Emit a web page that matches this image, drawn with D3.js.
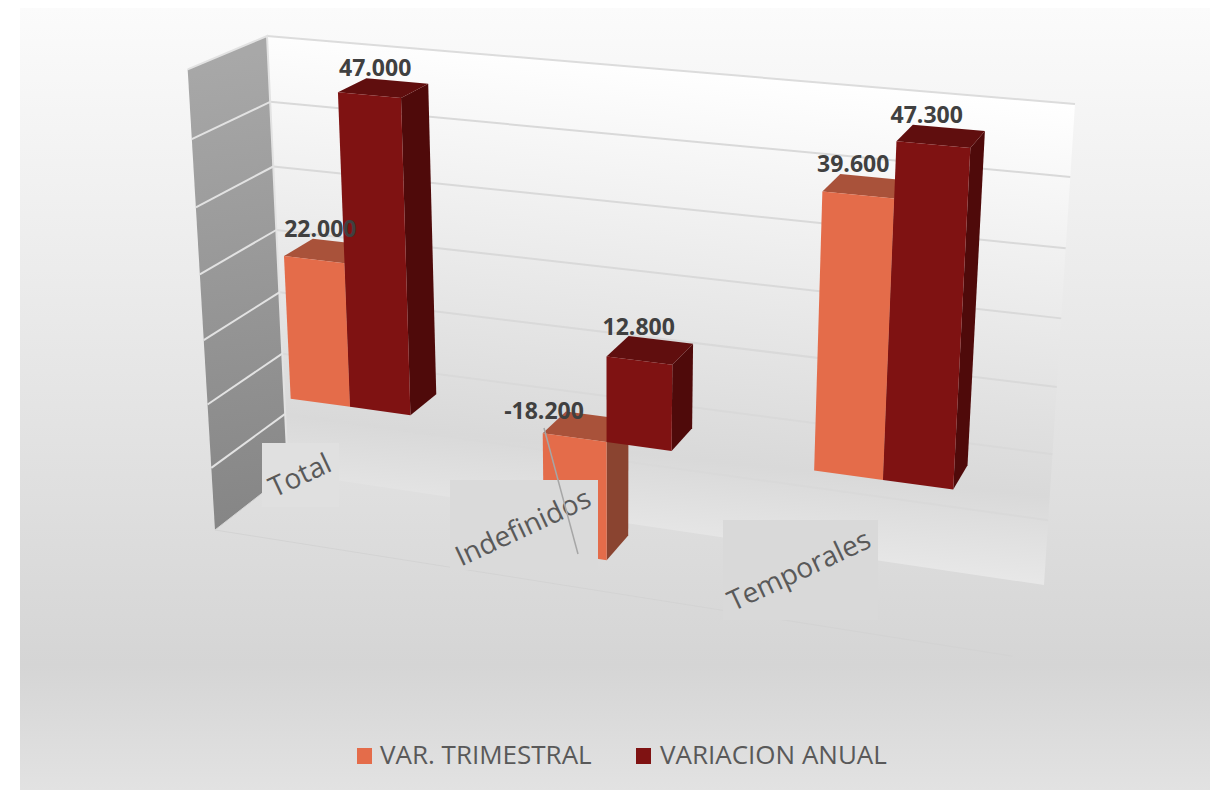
<!DOCTYPE html>
<html lang="en">
<head>
<meta charset="utf-8">
<title>Variacion trimestral y anual</title>
<script src="https://cdn.jsdelivr.net/npm/d3@7"></script>
<style>
body { margin: 0; background: #fff; }
svg { display: block; font-family: "Open Sans", sans-serif; }
.value-label { font-size: 23px; font-weight: 700; fill: #404040; text-anchor: middle; }
.cat-label { font-size: 28px; fill: #595959; text-anchor: middle; }
.legend-label { font-size: 26px; fill: #595959; }
</style>
</head>
<body>
<script>
// data
var categories = ["Total", "Indefinidos", "Temporales"];
var seriesNames = ["VAR. TRIMESTRAL", "VARIACION ANUAL"];
var varTrimestral = [22000, -18200, 39600];
var variacionAnual = [47000, 12800, 47300];
var axisTicks = [-20000, -10000, 0, 10000, 20000, 30000, 40000, 50000];

var w = 1223, h = 790;
var svg = d3.select("body").append("svg").attr("width", w).attr("height", h);
var defs = svg.append("defs");

function gradient(id, x1, y1, x2, y2, stops) {
    var g = defs.append("linearGradient").attr("id", id)
        .attr("gradientUnits", "userSpaceOnUse")
        .attr("x1", x1).attr("y1", y1).attr("x2", x2).attr("y2", y2);
    stops.forEach(function(s) {
        g.append("stop").attr("offset", s[0]).attr("stop-color", s[1]);
    });
}
gradient("bg", 0, 8, 0, 790, [[0, "#fbfbfb"], [0.84, "#d5d5d5"], [1, "#e2e2e2"]]);
gradient("wall", 690, 65, 640, 540, [[0, "#ffffff"], [0.82, "#d9d9d9"], [1, "#e7e7e7"]]);
gradient("side", 200, 60, 260, 530, [[0, "#a8a8a8"], [1, "#858585"]]);

svg.append("rect").attr("x", 20).attr("y", 8).attr("width", 1190).attr("height", 782).attr("fill", "url(#bg)");

// corners of the box on screen: O back-bottom-left, X back-bottom-right,
// Y back-top-left, W back-top-right, Z front-bottom-left, F front-top-left
var O = [288, 473, 1], X = [1044, 585, 1], Y = [267, 36, 1], W = [1075, 104, 1], Z = [215, 530, 1], F = [184, 71, 1];

function det(a, b, c) {
    return a[0] * (b[1] * c[2] - b[2] * c[1]) - b[0] * (a[1] * c[2] - a[2] * c[1]) + c[0] * (a[1] * b[2] - a[2] * b[1]);
}
// solves p*A + q*B + r*C = D
function solve(A, B, C, D) {
    var d = det(A, B, C);
    return [det(D, B, C) / d, det(A, D, C) / d, det(A, B, D) / d];
}
function mul(v, k) { return v.map(function(c) { return c * k; }); }

var s1 = solve(X, Y, mul(W, -1), O), s2 = solve(Y, Z, mul(F, -1), O);
var a = s1[0], b = s1[1], c = s2[1];

function project(u, v, d) {
    var out = [0, 1, 2].map(function(i) {
        return u * (a * X[i] - O[i]) + v * (b * Y[i] - O[i]) + d * (c * Z[i] - O[i]) + O[i];
    });
    return [out[0] / out[2], out[1] / out[2]];
}

// scales run in box units, 0 to 1 on each edge
var xCat = d3.scaleBand().domain(categories).range([0, 1]);
var xSeries = d3.scaleBand().domain(seriesNames).range([0, xCat.bandwidth()]).paddingOuter(1.065).paddingInner(0);
var yVal = d3.scaleLinear().domain([-20000, 50000]).range([0, 1]);
var depth = d3.scaleLinear().domain([0, 1]).range([0.73, 0.34]);   // 0 front of the bar, 1 back
var colors = d3.scaleOrdinal().domain(seriesNames).range(["#e46c4a", "#7f1212"]);
var topColors = d3.scaleOrdinal().domain(seriesNames).range(["#a9523a", "#600e0e"]);
var sideColors = d3.scaleOrdinal().domain(seriesNames).range(["#8a4430", "#4f0a0a"]);

var line = d3.line();
function poly(pts) { return line(pts) + "Z"; }

// walls and floor
var dMin = yVal.domain()[0], dMax = yVal.domain()[1];
svg.append("path").attr("fill", "url(#wall)")
    .attr("d", poly([project(0, 1, 0), project(1, 1, 0), project(1, 0, 0), project(0, 0, 0)]));
svg.append("path").attr("fill", "url(#side)")
    .attr("d", poly([project(0, 1, 0), project(0, 1, 1), project(0, 0, 1), project(0, 0, 0)]));

axisTicks.forEach(function(t) {
    var v = yVal(t);
    if (v > 0) {
        svg.append("path").attr("fill", "none").attr("stroke", t == dMax ? "#dcdcdc" : "#d9d9d9").attr("stroke-width", 2)
            .attr("d", line([project(0, v, 0), project(1, v, 0)]));
    }
    if (v < 1 && v > 0) {
        svg.append("path").attr("fill", "none").attr("stroke", "#e2e2e2").attr("stroke-width", 2)
            .attr("d", line([project(0, v, 1), project(0, v, 0)]));
    }
});
svg.append("path").attr("fill", "none").attr("stroke", "#e2e2e2").attr("stroke-width", 2)
    .attr("d", line([project(0, 1, 1), project(0, 1, 0), project(0, 0, 0)]));
svg.append("path").attr("fill", "none").attr("stroke", "#d3d3d3").attr("stroke-width", 1)
    .attr("d", line([project(0, 0, 0), project(0, 0, 1), project(1, 0, 1)]));

// bars
var barData = [];
categories.forEach(function(cat, i) {
    barData.push({cat: cat, series: seriesNames[0], value: varTrimestral[i]});
    barData.push({cat: cat, series: seriesNames[1], value: variacionAnual[i]});
});

function corner(r, side, val, dep) {
    var u = xCat(r.cat) + xSeries(r.series) + side * xSeries.bandwidth();
    return project(u, yVal(val), depth(dep));
}

var bars = svg.selectAll(".bar").data(barData).enter().append("g").attr("class", "bar");
bars.append("path").attr("fill", function(r) { return sideColors(r.series); })
    .attr("d", function(r) {
        return poly([corner(r, 1, r.value, 0), corner(r, 1, r.value, 1), corner(r, 1, 0, 1), corner(r, 1, 0, 0)]);
    });
bars.append("path").attr("fill", function(r) { return topColors(r.series); })
    .attr("d", function(r) {
        var top = Math.max(r.value, 0);
        return poly([corner(r, 0, top, 0), corner(r, 0, top, 1), corner(r, 1, top, 1), corner(r, 1, top, 0)]);
    });
bars.append("path").attr("fill", function(r) { return colors(r.series); })
    .attr("d", function(r) {
        return poly([corner(r, 0, r.value, 0), corner(r, 1, r.value, 0), corner(r, 1, 0, 0), corner(r, 0, 0, 0)]);
    });

// category labels sit on grey boxes, they were dragged by hand in the original
var catBoxes = [
    {x: 262, y: 443, w: 77, h: 64, cx: 304, cy: 484, fill: "#e0e0e0"},
    {x: 450, y: 480, w: 148, h: 90, cx: 527, cy: 536, fill: "#dadada"},
    {x: 723, y: 520, w: 155, h: 100, cx: 803, cy: 579, fill: "#d9d9d9"}
];
categories.forEach(function(cat, i) {
    var bx = catBoxes[i];
    svg.append("rect").attr("x", bx.x).attr("y", bx.y).attr("width", bx.w).attr("height", bx.h).attr("fill", bx.fill);
    svg.append("text").attr("class", "cat-label")
        .attr("transform", "translate(" + bx.cx + "," + bx.cy + ") rotate(-25)")
        .text(cat);
});

// leader line of the negative label
svg.append("line").attr("x1", 544).attr("y1", 428).attr("x2", 578).attr("y2", 554)
    .attr("stroke", "#a6a6a6").attr("stroke-width", 1.5);

// value labels
var fmt = d3.formatLocale({decimal: ",", thousands: ".", grouping: [3], currency: ["", ""], minus: "-"}).format(",d");
svg.selectAll(".value-label").data(barData).enter().append("text")
    .attr("class", "value-label")
    .attr("x", function(r) {
        var p = corner(r, 0.5, Math.max(r.value, 0), 1);
        return p[0] + (r.value < 0 ? -53 : -22);
    })
    .attr("y", function(r) {
        var p = corner(r, 0.5, Math.max(r.value, 0), 1);
        return p[1] + (r.value < 0 ? 3 : -5);
    })
    .text(function(r) { return fmt(r.value); });

// legend
var legendX = [357, 636], legendTextX = [380, 660];
seriesNames.forEach(function(name, i) {
    svg.append("rect").attr("x", legendX[i]).attr("y", 748).attr("width", 15).attr("height", 16).attr("fill", colors(name));
    svg.append("text").attr("class", "legend-label").attr("x", legendTextX[i]).attr("y", 764).text(name);
});
</script>
</body>
</html>
